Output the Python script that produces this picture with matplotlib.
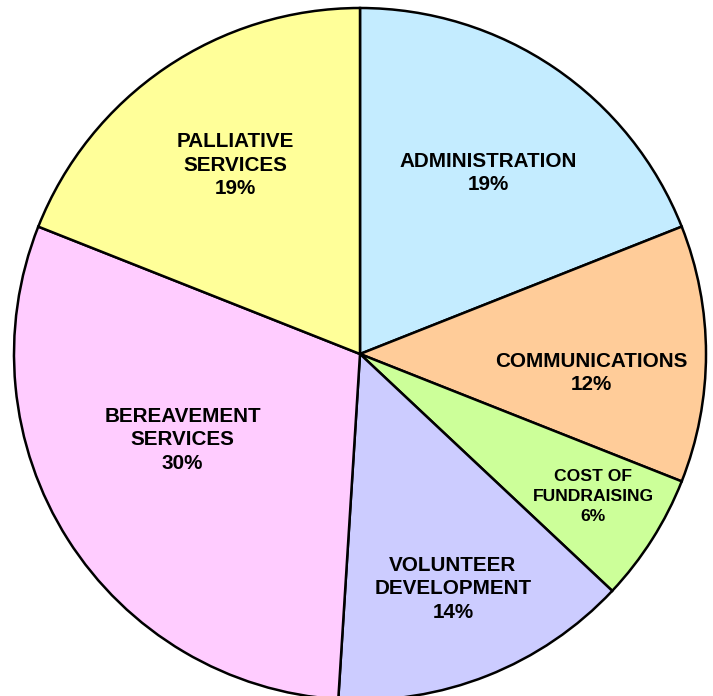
import numpy as np
import matplotlib
matplotlib.use("Agg")
import matplotlib.pyplot as plt

# slice data, clockwise from 12 o'clock
categories = ["ADMINISTRATION", "COMMUNICATIONS", "COST OF\nFUNDRAISING",
              "VOLUNTEER\nDEVELOPMENT", "BEREAVEMENT\nSERVICES", "PALLIATIVE\nSERVICES"]
shares = [19, 12, 6, 14, 30, 19]

colors = ["#C4ECFF", "#FFCC99", "#CCFF99", "#CCCCFF", "#FFCCFF", "#FFFF99"]

# label layout: radial fraction and angle nudge (deg) from slice middle
label_frac = [0.64, 0.67, 0.79, 0.73, 0.57, 0.655]
label_nudge = [-1.1, -4.7, 0.9, 0.0, -6.6, -0.7]
label_size = [14.9, 14.9, 12.6, 14.9, 14.9, 14.9]
label_spacing = [1.28, 1.28, 1.42, 1.28, 1.28, 1.28]

plt.rcParams["font.family"] = ["Liberation Sans", "DejaVu Sans"]

fig = plt.figure(figsize=(7.13, 6.96), dpi=100)
ax = fig.add_axes([0, 0, 1, 1])

wedges, _ = ax.pie(shares, colors=colors, startangle=90, counterclock=False,
                   wedgeprops=dict(edgecolor="black", linewidth=1.8))

for w, name, val, frac, nudge, fs, ls in zip(wedges, categories, shares, label_frac,
                                             label_nudge, label_size, label_spacing):
    mid = np.deg2rad((w.theta1 + w.theta2) / 2 + nudge)
    ax.text(frac * np.cos(mid), frac * np.sin(mid), f"{name}\n{val}%",
            ha="center", va="center", fontsize=fs, fontweight="bold",
            linespacing=ls)

# pie center at (360, 354) px, radius 346 px; bottom edge cropped
ax.set_xlim(-360 / 346, 353 / 346)
ax.set_ylim(-342 / 346, 354 / 346)
ax.set_aspect("auto")
ax.axis("off")

fig.savefig("out.png", dpi=100)
